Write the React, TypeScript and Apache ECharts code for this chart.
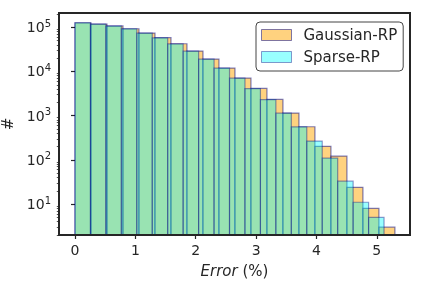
import React, { useEffect, useRef } from 'react';
import * as echarts from 'echarts';

// Histogram definitions: 20 equal-width bins over each range
const gaussianRange = [0, 5.3];
const sparseRange = [0, 5.12];
const gaussianCounts = [126500, 118000, 107000, 92500, 74000, 58000, 42300, 28900, 19100, 11950, 7100, 4130, 2330, 1146, 561, 203, 122, 24, 8, 3];
const sparseCounts = [126000, 117500, 106500, 92000, 73500, 57500, 42000, 28800, 19000, 11900, 7050, 4100, 2310, 1140, 558, 266, 110, 33, 11, 5];

const xTicks = [0, 1, 2, 3, 4, 5];
const yTicks = [10, 100, 1000, 10000, 100000];
const yMinorTicks = [
  2, 3, 4, 5, 6, 7, 8, 9,
  20, 30, 40, 50, 60, 70, 80, 90,
  200, 300, 400, 500, 600, 700, 800, 900,
  2000, 3000, 4000, 5000, 6000, 7000, 8000, 9000,
  20000, 30000, 40000, 50000, 60000, 70000, 80000, 90000,
  200000,
];

const X_MIN = -0.265;
const X_MAX = 5.55;
const Y_MIN = 2;
const Y_MAX = 210000;

const FONT = 'DejaVu Sans';
const INK = '#262626';

function makeBins(range: number[], counts: number[]) {
  const w = (range[1] - range[0]) / counts.length;
  return counts.map((c, i) => [range[0] + i * w, range[0] + (i + 1) * w, c]);
}

function histSeries(name: string, data: number[][], fill: string, alpha: number) {
  return {
    type: 'custom',
    name,
    data,
    encode: { x: [0, 1], y: 2 },
    renderItem: (params: any, api: any) => {
      const x0 = api.value(0);
      const x1 = api.value(1);
      const v = api.value(2);
      const p0 = api.coord([x0, v]);
      const p1 = api.coord([x1, Y_MIN]);
      return {
        type: 'rect',
        shape: { x: p0[0], y: p0[1], width: p1[0] - p0[0], height: p1[1] - p0[1] },
        style: { fill, stroke: '#000080', lineWidth: 1.2, opacity: alpha },
      };
    },
  };
}

export default function App() {
  const ref = useRef<HTMLDivElement>(null);
  useEffect(() => {
    if (!ref.current) return;
    const chart = echarts.init(ref.current, undefined, { renderer: 'svg' });
    chart.setOption({
      animation: false,
      textStyle: { fontFamily: FONT, color: INK },
      grid: {
        show: true,
        left: 59,
        right: 14,
        top: 13,
        bottom: 49,
        containLabel: false,
        outerBoundsMode: 'none',
        borderColor: INK,
        borderWidth: 2,
        backgroundColor: 'transparent',
        z: 10,
      },
      legend: {
        orient: 'vertical',
        left: 256,
        top: 22,
        itemWidth: 30,
        itemHeight: 11,
        itemGap: 6,
        padding: [5, 6, 6, 5],
        backgroundColor: '#fff',
        borderColor: '#444',
        borderWidth: 1,
        borderRadius: 4,
        z: 20,
        textStyle: { fontFamily: FONT, fontSize: 15, color: INK, lineHeight: 16, padding: [0, 0, 0, 7] },
        data: [
          {
            name: 'Gaussian-RP',
            icon: 'rect',
            itemStyle: { color: 'rgba(255,165,0,0.5)', borderColor: 'rgba(0,0,128,0.5)', borderWidth: 1 },
          },
          {
            name: 'Sparse-RP',
            icon: 'rect',
            itemStyle: { color: 'rgba(0,255,255,0.4)', borderColor: 'rgba(0,0,128,0.4)', borderWidth: 1 },
          },
        ],
      },
      xAxis: {
        type: 'value',
        min: X_MIN,
        max: X_MAX,
        splitLine: { show: false },
        axisLine: { show: false },
        axisTick: { show: true, length: 4, lineStyle: { color: INK, width: 1.2 }, customValues: xTicks },
        axisLabel: {
          customValues: xTicks,
          margin: 8,
          fontFamily: FONT,
          fontSize: 14,
          color: INK,
          formatter: (v: number) => String(v),
        },
        name: '{i|Error} (%)',
        nameLocation: 'middle',
        nameGap: 28,
        nameTextStyle: {
          fontFamily: FONT,
          fontSize: 15,
          color: INK,
          rich: { i: { fontFamily: FONT, fontSize: 15, fontStyle: 'italic', color: INK } },
        },
      },
      yAxis: [
        {
          type: 'log',
          logBase: 10,
          min: Y_MIN,
          max: Y_MAX,
          splitLine: { show: false },
          axisLine: { show: false },
          axisTick: { show: true, length: 4, lineStyle: { color: INK, width: 1.2 }, customValues: yTicks },
          axisLabel: {
            customValues: yTicks,
            margin: 8,
            color: INK,
            formatter: (v: number) => `{b|10}{s|${Math.round(Math.log10(v))}}`,
            rich: {
              b: { fontFamily: FONT, fontSize: 14, color: INK },
              s: { fontFamily: FONT, fontSize: 10, color: INK, padding: [0, 0, 8, 0] },
            },
          },
          name: '#',
          nameLocation: 'middle',
          nameGap: 39,
          nameTextStyle: { fontFamily: FONT, fontSize: 15, color: INK },
        },
        {
          type: 'log',
          logBase: 10,
          min: Y_MIN,
          max: Y_MAX,
          position: 'left',
          splitLine: { show: false },
          axisLine: { show: false },
          axisLabel: { show: false },
          axisTick: { show: true, length: 2.2, lineStyle: { color: INK, width: 0.8 }, customValues: yMinorTicks },
        },
      ],
      series: [
        histSeries('Gaussian-RP', makeBins(gaussianRange, gaussianCounts), '#ffa500', 0.5),
        histSeries('Sparse-RP', makeBins(sparseRange, sparseCounts), '#00ffff', 0.4),
      ],
    });
    return () => chart.dispose();
  }, []);
  return <div ref={ref} style={{ position: 'fixed', left: 0, top: 0, width: 424, height: 284 }} />;
}
